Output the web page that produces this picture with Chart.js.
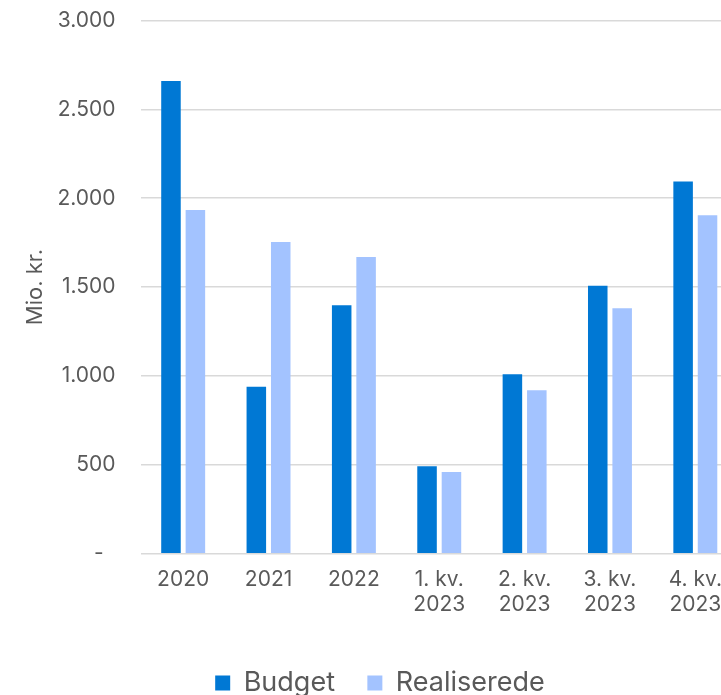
<!DOCTYPE html>
<html>
<head>
<meta charset="utf-8">
<script src="https://cdn.jsdelivr.net/npm/chart.js@4"></script>
<style>
  html, body { margin: 0; padding: 0; background: #fff; overflow: hidden; }
  #wrap { width: 765px; height: 695px; position: relative; }
</style>
</head>
<body>
<div id="wrap"><canvas id="myChart"></canvas></div>
<script>
// data
const categories = ["2020", "2021", "2022", ["1. kv.", "2023"], ["2. kv.", "2023"], ["3. kv.", "2023"], ["4. kv.", "2023"]];
const budget = [2659, 940, 1398, 492, 1010, 1507, 2094];
const realiserede = [1934, 1754, 1669, 460, 919, 1381, 1904];
const yTickLabels = ["-  ", "500", "1.000", "1.500", "2.000", "2.500", "3.000"];

const textColor = "#595959";
const fontFamily = "Inter, 'DejaVu Sans', sans-serif";

var ctx = document.getElementById("myChart").getContext("2d");
var myChart = new Chart(ctx, {
  type: "bar",
  data: {
    labels: categories,
    datasets: [
      {
        label: "Budget",
        data: budget,
        backgroundColor: "#0078d4",
        categoryPercentage: 0.572,
        barPercentage: 0.8,
      },
      {
        label: "Realiserede",
        data: realiserede,
        backgroundColor: "#a3c3ff",
        categoryPercentage: 0.572,
        barPercentage: 0.8,
      },
    ],
  },
  options: {
    responsive: true,
    maintainAspectRatio: false,
    animation: false,
    layout: { padding: { left: 22, right: 27, top: 0, bottom: -11.5 } },
    plugins: {
      tooltip: { enabled: false },
      legend: {
        position: "bottom",
        labels: {
          color: textColor,
          font: { family: fontFamily, size: 27 },
          boxWidth: 15,
          boxHeight: 15,
          padding: 2,
          // mellemrum mellem punkterne via ekstra mellemrum i teksten
          generateLabels: function (chart) {
            const items = Chart.defaults.plugins.legend.labels.generateLabels(chart);
            items.forEach(function (item, i) {
              if (i < items.length - 1) item.text = item.text + "    ";
            });
            return items;
          },
        },
      },
    },
    scales: {
      x: {
        grid: { display: false },
        border: { display: false },
        ticks: {
          color: textColor,
          font: { family: fontFamily, size: 21, lineHeight: 1.22 },
          maxRotation: 0,
          autoSkip: false,
          padding: 5,
        },
        afterFit: function (scale) {
          scale.height = 113.8;
        },
      },
      y: {
        min: 0,
        max: 3000,
        border: { display: false },
        grid: { color: "#d9d9d9", lineWidth: 1.5, drawTicks: false },
        ticks: {
          stepSize: 500,
          color: textColor,
          font: { family: fontFamily, size: 21 },
          padding: 25,
          callback: function (value, index) {
            return yTickLabels[index];
          },
        },
        title: {
          display: true,
          text: "Mio. kr.",
          color: textColor,
          font: { family: fontFamily, size: 22 },
          padding: 0,
        },
        afterFit: function (scale) {
          scale.width = 118.5;
          scale.paddingTop = 20.5;
          scale.paddingBottom = 0;
        },
      },
    },
  },
});
</script>
</body>
</html>
